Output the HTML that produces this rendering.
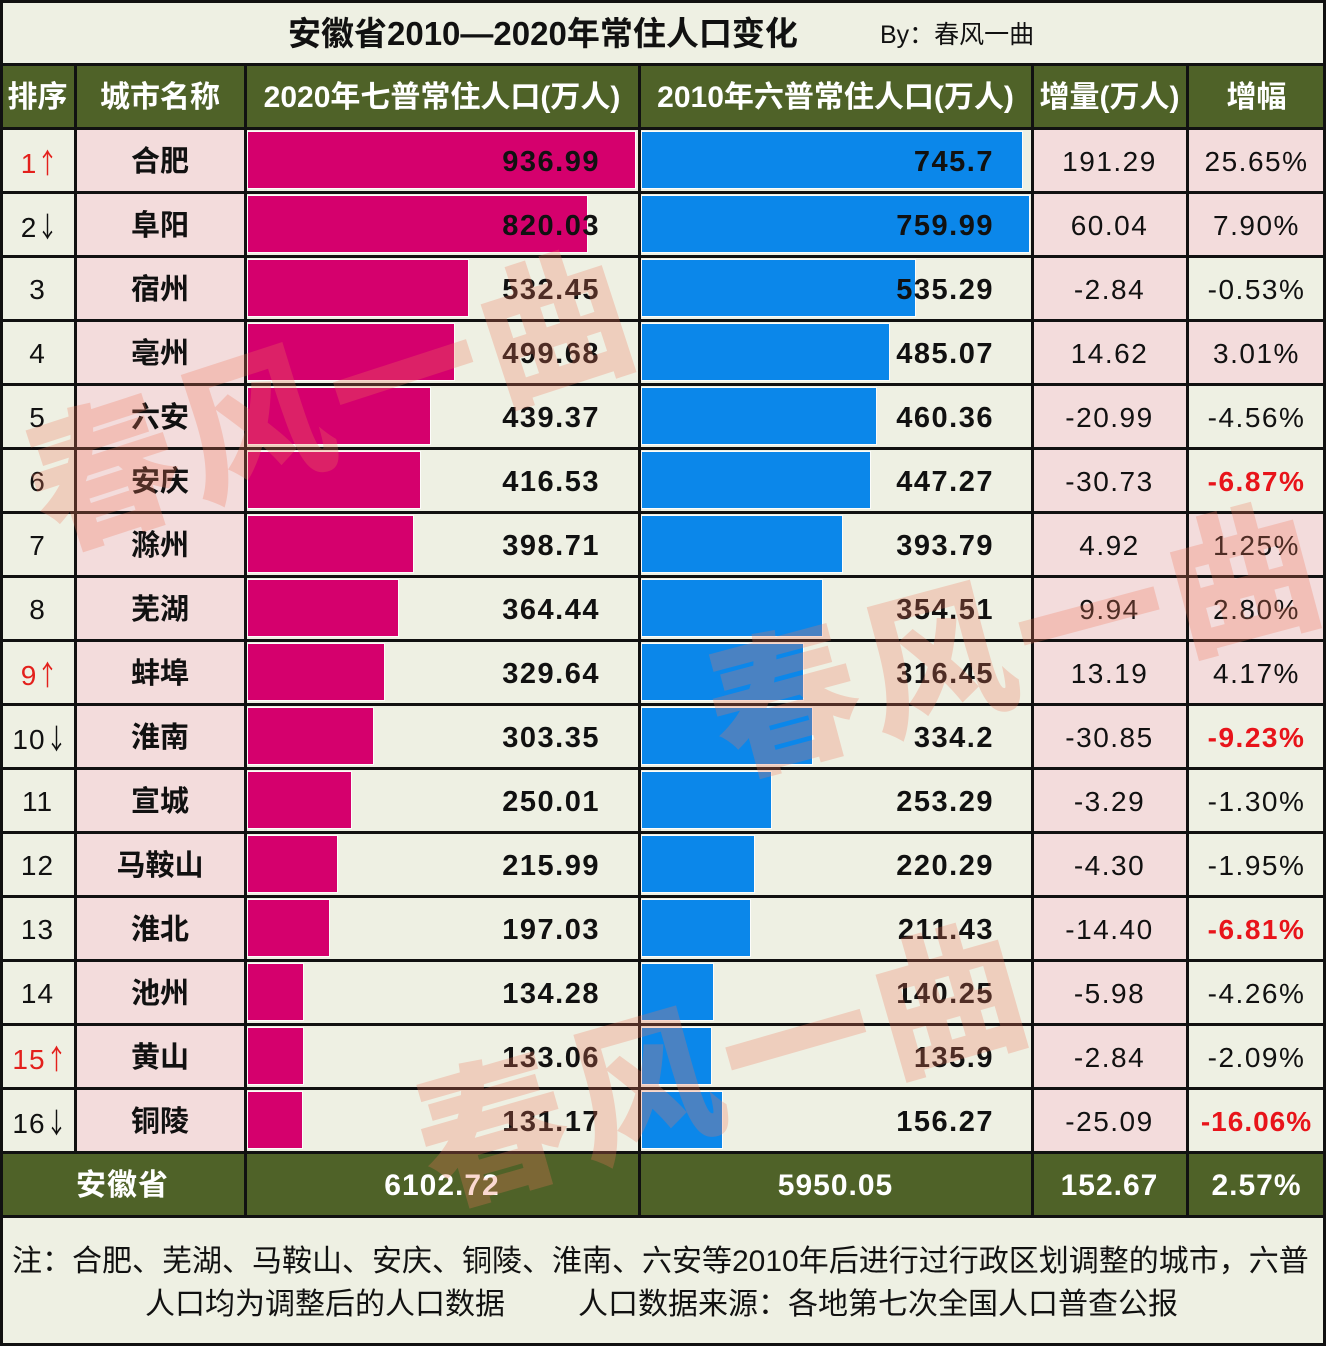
<!DOCTYPE html>
<html><head><meta charset="utf-8">
<style>
*{margin:0;padding:0;box-sizing:border-box}
body{width:1326px;height:1346px;overflow:hidden;background:#eef0e3}
#c{position:relative;width:1326px;height:1346px;background:#eef0e3;overflow:hidden;font-family:"Liberation Sans","Noto Sans CJK SC",sans-serif;color:#111}
.a{position:absolute}
.cell{position:absolute;height:64px;line-height:68px;text-align:center;white-space:nowrap}
.pk{background:#f3dcdc}
.rk{left:0;width:75px;font-size:28px;letter-spacing:1px}
.ar{display:inline-block;font-family:"Noto Sans CJK SC",sans-serif;width:17px;transform:scaleX(.75);transform-origin:left center;letter-spacing:0}
.ct{left:75px;width:170px;font-size:29px;font-weight:bold}
.v1{left:245px;width:355px;text-align:right;font-size:29px;font-weight:bold;letter-spacing:1.5px}
.v2{left:639px;width:355px;text-align:right;font-size:29px;font-weight:bold;letter-spacing:1.5px}
.inc{left:1032px;width:155px;font-size:28px;letter-spacing:1.5px}
.pc{left:1187px;width:139px;font-size:28px;letter-spacing:1.5px}
.red{color:#e3201c}
.rb{color:#e8141a;font-weight:bold}
.pb{position:absolute;left:248px;height:56px;background:#d5006d;box-shadow:0 0 0 1px rgba(255,255,255,.8)}
.bb{position:absolute;left:642px;height:56px;background:#0b87ea;box-shadow:0 0 0 1px rgba(255,255,255,.8)}
.hl{position:absolute;left:0;width:1326px;height:3px;background:#111}
.vl{position:absolute;width:3px;background:#111}
.hd{position:absolute;top:64px;height:64px;line-height:68px;color:#fff;font-weight:bold;font-size:30px;text-align:center;white-space:nowrap}
.tot{position:absolute;top:1152px;height:64px;line-height:68px;color:#fff;font-weight:bold;font-size:30px;text-align:center;letter-spacing:1px}
.wm{position:absolute;white-space:nowrap;font-family:"Noto Sans CJK SC",sans-serif;font-weight:900;font-size:150px;line-height:150px;color:rgba(242,120,90,.28);letter-spacing:8px}
</style></head><body>
<div id="c">
<!-- title -->
<div class="a" style="left:288px;top:0;height:64px;line-height:68px;font-size:33px;font-weight:bold;white-space:nowrap">安徽省2010—2020年常住人口变化</div>
<div class="a" style="left:880px;top:0;height:64px;line-height:70px;font-size:25px;white-space:nowrap">By：春风一曲</div>

<!-- header -->
<div class="a" style="left:0;top:64px;width:1326px;height:64px;background:#4f6228"></div>
<div class="hd" style="left:0;width:75px">排序</div>
<div class="hd" style="left:75px;width:170px">城市名称</div>
<div class="hd" style="left:245px;width:394px">2020年七普常住人口(万人)</div>
<div class="hd" style="left:639px;width:393px">2010年六普常住人口(万人)</div>
<div class="hd" style="left:1032px;width:155px">增量(万人)</div>
<div class="hd" style="left:1187px;width:139px">增幅</div>

<!-- rows -->
<!-- 1 -->
<div class="cell rk red" style="top:128px">1<span class="ar">↑</span></div>
<div class="cell ct pk" style="top:128px">合肥</div>
<div class="pb" style="top:132px;width:387px"></div>
<div class="cell v1" style="top:128px">936.99</div>
<div class="bb" style="top:132px;width:380px"></div>
<div class="cell v2" style="top:128px">745.7</div>
<div class="cell inc pk" style="top:128px">191.29</div>
<div class="cell pc pk" style="top:128px">25.65%</div>
<!-- 2 -->
<div class="cell rk" style="top:192px">2<span class="ar">↓</span></div>
<div class="cell ct pk" style="top:192px">阜阳</div>
<div class="pb" style="top:196px;width:339px"></div>
<div class="cell v1" style="top:192px">820.03</div>
<div class="bb" style="top:196px;width:387px"></div>
<div class="cell v2" style="top:192px">759.99</div>
<div class="cell inc pk" style="top:192px">60.04</div>
<div class="cell pc pk" style="top:192px">7.90%</div>
<!-- 3 -->
<div class="cell rk" style="top:256px">3</div>
<div class="cell ct pk" style="top:256px">宿州</div>
<div class="pb" style="top:260px;width:220px"></div>
<div class="cell v1" style="top:256px">532.45</div>
<div class="bb" style="top:260px;width:273px"></div>
<div class="cell v2" style="top:256px">535.29</div>
<div class="cell inc pk" style="top:256px">-2.84</div>
<div class="cell pc" style="top:256px">-0.53%</div>
<!-- 4 -->
<div class="cell rk" style="top:320px">4</div>
<div class="cell ct pk" style="top:320px">亳州</div>
<div class="pb" style="top:324px;width:206px"></div>
<div class="cell v1" style="top:320px">499.68</div>
<div class="bb" style="top:324px;width:247px"></div>
<div class="cell v2" style="top:320px">485.07</div>
<div class="cell inc pk" style="top:320px">14.62</div>
<div class="cell pc pk" style="top:320px">3.01%</div>
<!-- 5 -->
<div class="cell rk" style="top:384px">5</div>
<div class="cell ct pk" style="top:384px">六安</div>
<div class="pb" style="top:388px;width:182px"></div>
<div class="cell v1" style="top:384px">439.37</div>
<div class="bb" style="top:388px;width:234px"></div>
<div class="cell v2" style="top:384px">460.36</div>
<div class="cell inc pk" style="top:384px">-20.99</div>
<div class="cell pc" style="top:384px">-4.56%</div>
<!-- 6 -->
<div class="cell rk" style="top:448px">6</div>
<div class="cell ct pk" style="top:448px">安庆</div>
<div class="pb" style="top:452px;width:172px"></div>
<div class="cell v1" style="top:448px">416.53</div>
<div class="bb" style="top:452px;width:228px"></div>
<div class="cell v2" style="top:448px">447.27</div>
<div class="cell inc pk" style="top:448px">-30.73</div>
<div class="cell pc rb" style="top:448px">-6.87%</div>
<!-- 7 -->
<div class="cell rk" style="top:512px">7</div>
<div class="cell ct pk" style="top:512px">滁州</div>
<div class="pb" style="top:516px;width:165px"></div>
<div class="cell v1" style="top:512px">398.71</div>
<div class="bb" style="top:516px;width:200px"></div>
<div class="cell v2" style="top:512px">393.79</div>
<div class="cell inc pk" style="top:512px">4.92</div>
<div class="cell pc pk" style="top:512px">1.25%</div>
<!-- 8 -->
<div class="cell rk" style="top:576px">8</div>
<div class="cell ct pk" style="top:576px">芜湖</div>
<div class="pb" style="top:580px;width:150px"></div>
<div class="cell v1" style="top:576px">364.44</div>
<div class="bb" style="top:580px;width:180px"></div>
<div class="cell v2" style="top:576px">354.51</div>
<div class="cell inc pk" style="top:576px">9.94</div>
<div class="cell pc pk" style="top:576px">2.80%</div>
<!-- 9 -->
<div class="cell rk red" style="top:640px">9<span class="ar">↑</span></div>
<div class="cell ct pk" style="top:640px">蚌埠</div>
<div class="pb" style="top:644px;width:136px"></div>
<div class="cell v1" style="top:640px">329.64</div>
<div class="bb" style="top:644px;width:161px"></div>
<div class="cell v2" style="top:640px">316.45</div>
<div class="cell inc pk" style="top:640px">13.19</div>
<div class="cell pc pk" style="top:640px">4.17%</div>
<!-- 10 -->
<div class="cell rk" style="top:704px">10<span class="ar">↓</span></div>
<div class="cell ct pk" style="top:704px">淮南</div>
<div class="pb" style="top:708px;width:125px"></div>
<div class="cell v1" style="top:704px">303.35</div>
<div class="bb" style="top:708px;width:170px"></div>
<div class="cell v2" style="top:704px">334.2</div>
<div class="cell inc pk" style="top:704px">-30.85</div>
<div class="cell pc rb" style="top:704px">-9.23%</div>
<!-- 11 -->
<div class="cell rk" style="top:768px">11</div>
<div class="cell ct pk" style="top:768px">宣城</div>
<div class="pb" style="top:772px;width:103px"></div>
<div class="cell v1" style="top:768px">250.01</div>
<div class="bb" style="top:772px;width:129px"></div>
<div class="cell v2" style="top:768px">253.29</div>
<div class="cell inc pk" style="top:768px">-3.29</div>
<div class="cell pc" style="top:768px">-1.30%</div>
<!-- 12 -->
<div class="cell rk" style="top:832px">12</div>
<div class="cell ct pk" style="top:832px">马鞍山</div>
<div class="pb" style="top:836px;width:89px"></div>
<div class="cell v1" style="top:832px">215.99</div>
<div class="bb" style="top:836px;width:112px"></div>
<div class="cell v2" style="top:832px">220.29</div>
<div class="cell inc pk" style="top:832px">-4.30</div>
<div class="cell pc" style="top:832px">-1.95%</div>
<!-- 13 -->
<div class="cell rk" style="top:896px">13</div>
<div class="cell ct pk" style="top:896px">淮北</div>
<div class="pb" style="top:900px;width:81px"></div>
<div class="cell v1" style="top:896px">197.03</div>
<div class="bb" style="top:900px;width:108px"></div>
<div class="cell v2" style="top:896px">211.43</div>
<div class="cell inc pk" style="top:896px">-14.40</div>
<div class="cell pc rb" style="top:896px">-6.81%</div>
<!-- 14 -->
<div class="cell rk" style="top:960px">14</div>
<div class="cell ct pk" style="top:960px">池州</div>
<div class="pb" style="top:964px;width:55px"></div>
<div class="cell v1" style="top:960px">134.28</div>
<div class="bb" style="top:964px;width:71px"></div>
<div class="cell v2" style="top:960px">140.25</div>
<div class="cell inc pk" style="top:960px">-5.98</div>
<div class="cell pc" style="top:960px">-4.26%</div>
<!-- 15 -->
<div class="cell rk red" style="top:1024px">15<span class="ar">↑</span></div>
<div class="cell ct pk" style="top:1024px">黄山</div>
<div class="pb" style="top:1028px;width:55px"></div>
<div class="cell v1" style="top:1024px">133.06</div>
<div class="bb" style="top:1028px;width:69px"></div>
<div class="cell v2" style="top:1024px">135.9</div>
<div class="cell inc pk" style="top:1024px">-2.84</div>
<div class="cell pc" style="top:1024px">-2.09%</div>
<!-- 16 -->
<div class="cell rk" style="top:1088px">16<span class="ar">↓</span></div>
<div class="cell ct pk" style="top:1088px">铜陵</div>
<div class="pb" style="top:1092px;width:54px"></div>
<div class="cell v1" style="top:1088px">131.17</div>
<div class="bb" style="top:1092px;width:80px"></div>
<div class="cell v2" style="top:1088px">156.27</div>
<div class="cell inc pk" style="top:1088px">-25.09</div>
<div class="cell pc rb" style="top:1088px;letter-spacing:1px">-16.06%</div>

<!-- total -->
<div class="a" style="left:0;top:1152px;width:1326px;height:64px;background:#4f6228"></div>
<div class="tot" style="left:0;width:245px">安徽省</div>
<div class="tot" style="left:245px;width:394px">6102.72</div>
<div class="tot" style="left:639px;width:393px">5950.05</div>
<div class="tot" style="left:1032px;width:155px">152.67</div>
<div class="tot" style="left:1187px;width:139px">2.57%</div>

<!-- footer -->
<div class="a" style="left:12px;top:1240px;height:44px;line-height:44px;font-size:30px;white-space:nowrap">注：合肥、芜湖、马鞍山、安庆、铜陵、淮南、六安等2010年后进行过行政区划调整的城市，六普</div>
<div class="a" style="left:145px;top:1283px;height:44px;line-height:44px;font-size:30px;white-space:nowrap">人口均为调整后的人口数据</div>
<div class="a" style="left:578px;top:1283px;height:44px;line-height:44px;font-size:30px;white-space:nowrap">人口数据来源：各地第七次全国人口普查公报</div>

<!-- grid lines -->
<div class="hl" style="top:63px"></div>
<div class="hl" style="top:127px"></div>
<div class="hl" style="top:191px"></div>
<div class="hl" style="top:255px"></div>
<div class="hl" style="top:319px"></div>
<div class="hl" style="top:383px"></div>
<div class="hl" style="top:447px"></div>
<div class="hl" style="top:511px"></div>
<div class="hl" style="top:575px"></div>
<div class="hl" style="top:639px"></div>
<div class="hl" style="top:703px"></div>
<div class="hl" style="top:767px"></div>
<div class="hl" style="top:831px"></div>
<div class="hl" style="top:895px"></div>
<div class="hl" style="top:959px"></div>
<div class="hl" style="top:1023px"></div>
<div class="hl" style="top:1087px"></div>
<div class="hl" style="top:1151px"></div>
<div class="hl" style="top:1215px"></div>
<div class="vl" style="left:74px;top:64px;height:1088px"></div>
<div class="vl" style="left:244px;top:64px;height:1152px"></div>
<div class="vl" style="left:638px;top:64px;height:1152px"></div>
<div class="vl" style="left:1031px;top:64px;height:1152px"></div>
<div class="vl" style="left:1186px;top:64px;height:1152px"></div>

<!-- watermarks -->
<div class="wm" style="left:330px;top:390px;transform:translate(-50%,-50%) rotate(-18deg)">春风一曲</div>
<div class="wm" style="left:1015px;top:630px;transform:translate(-50%,-50%) rotate(-15deg)">春风一曲</div>
<div class="wm" style="left:722px;top:1055px;transform:translate(-50%,-50%) rotate(-16deg)">春风一曲</div>

<!-- outer border -->
<div class="a" style="left:0;top:0;width:1326px;height:1346px;border:3px solid #111"></div>
</div>
</body></html>
